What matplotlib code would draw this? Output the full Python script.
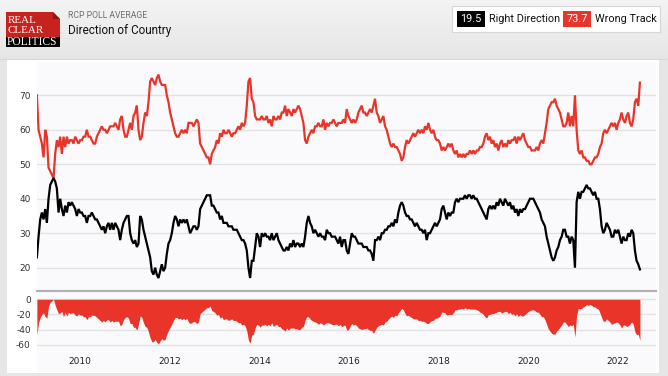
import numpy as np
import pandas as pd
import matplotlib.pyplot as plt
import matplotlib.dates as mdates
from matplotlib.patches import Rectangle, Polygon

plt.rcParams["axes.unicode_minus"] = False

RED = "#e9342a"
LOGO_RED = "#c6231e"
GRID = "#e2e2e2"

# RCP poll average (roughly every two weeks, Jan 2009 - Jun 2022)
wrong_track = [
    70, 60, 58, 56, 52, 60, 58, 49, 48, 47, 46, 53, 57, 55, 58, 53, 58, 55, 58, 56,
    57, 57, 56, 58, 57, 56, 57, 57, 58, 58, 60, 58, 58, 57, 56, 56, 58, 59, 60, 61,
    60, 60, 59, 60, 61, 61, 61, 62, 61, 60, 63, 64, 60, 58, 58, 60, 62, 60, 64, 65,
    67, 60, 57, 58, 62, 65, 64, 68, 74, 75, 74, 73, 75, 76, 74, 73, 73, 73, 70, 68,
    65, 63, 61, 59, 58, 58, 59, 60, 59,
    60, 59, 62, 62, 62, 61, 62, 63, 62, 56, 55, 54, 53, 52, 52, 50, 53, 54, 55, 57,
    56, 59, 58, 60, 59, 59, 60, 59, 58, 59, 59, 60, 61, 60, 62, 61, 62, 67, 74, 75,
    69, 68, 64, 63, 63, 63, 64, 63, 63, 64, 62, 63, 61, 64, 63, 63, 64, 63, 65, 65,
    67, 64, 66, 65, 64, 66, 65, 66, 67, 66, 64, 62, 57, 56, 58, 59, 60, 59, 61, 61,
    62, 61, 61, 63, 60, 62, 61, 62, 62, 63,
    62, 61, 62, 62, 62, 63, 62, 66, 64, 63, 62, 63, 62, 63, 65, 66, 67, 65, 65, 64,
    65, 66, 65, 67, 69, 65, 64, 62, 63, 64, 61, 60, 58, 56, 55, 56, 55, 55, 54, 53,
    51, 52, 55, 57, 56, 57, 58, 59, 58, 59, 60, 59, 60, 59, 61, 60, 62, 60, 59, 60,
    58, 57, 57, 56, 54, 55, 54, 55, 56, 55, 56, 54, 53, 54, 52, 53, 52, 53, 52, 53,
    53, 54, 53, 54, 53, 54, 54, 55, 55, 56,
    58, 59, 57, 58, 56, 57, 55, 56, 54, 56, 57, 55, 56, 55, 57, 56, 57, 57, 58, 56,
    58, 57, 58, 59, 57, 56, 55, 55, 54, 54, 54, 55, 54, 56, 57, 56, 59, 62, 66, 67,
    68, 68, 69, 67, 66, 65, 63, 61, 61, 62, 65, 61, 64, 61, 70, 60, 54, 53, 54, 52,
    52, 51, 51, 50, 50, 51, 52, 52, 53, 55, 56, 59, 60, 59, 60, 61, 62, 61, 62, 60,
    62, 63, 65, 63, 62, 64, 65, 62, 61, 63, 68, 69, 67, 73.7,
]

right_direction = [
    23, 29, 34, 36, 34, 37, 33, 40, 44, 45, 46, 45, 43, 36, 40, 37, 35, 38, 36, 39,
    38, 39, 38, 37, 35, 37, 36, 36, 35, 35, 33, 35, 35, 36, 35, 34, 34, 33, 32, 31,
    32, 30, 32, 33, 31, 33, 31, 33, 32, 31, 28, 31, 33, 34, 35, 35, 30, 28, 27, 28,
    26, 27, 35, 34, 31, 29, 27, 25, 23, 19, 18, 20, 18, 17, 19, 21, 19, 20, 24, 27,
    28, 30, 33, 35, 34, 32, 34, 33, 34,
    33, 34, 32, 30, 31, 32, 32, 31, 32, 37, 38, 39, 40, 41, 41, 41, 38, 38, 37, 36,
    36, 34, 35, 33, 33, 33, 32, 32, 32, 31, 31, 31, 30, 29, 28, 28, 27, 25, 20, 17,
    22, 22, 26, 30, 29, 26, 30, 29, 30, 29, 29, 28, 30, 28, 29, 30, 28, 27, 26, 25,
    25, 26, 25, 27, 26, 28, 26, 27, 27, 26, 27, 26, 29, 33, 35, 33, 32, 30, 31, 30,
    29, 30, 29, 29, 28, 31, 30, 30, 29, 29,
    29, 28, 27, 29, 26, 28, 28, 25, 24, 27, 30, 29, 29, 28, 27, 27, 27, 26, 26, 26,
    25, 25, 24, 22, 28, 28, 29, 28, 30, 30, 31, 31, 32, 32, 33, 32, 34, 33, 36, 38,
    39, 38, 36, 35, 35, 34, 34, 33, 32, 33, 32, 31, 31, 30, 31, 28, 30, 30, 31, 32,
    33, 32, 33, 34, 37, 38, 36, 34, 36, 35, 36, 36, 39, 40, 39, 40, 40, 40, 41, 40,
    41, 41, 40, 41, 40, 40, 39, 38, 37, 36,
    35, 34, 37, 38, 37, 38, 37, 39, 38, 40, 39, 38, 40, 39, 38, 39, 37, 38, 36, 37,
    35, 37, 36, 37, 37, 38, 39, 40, 40, 40, 39, 38, 37, 36, 34, 33, 32, 29, 27, 25,
    23, 22, 23, 25, 26, 28, 29, 31, 31, 29, 29, 27, 29, 28, 20, 39, 42, 40, 42, 42,
    43, 44, 43, 43, 42, 41, 42, 40, 40, 37, 32, 30, 31, 33, 32, 31, 29, 29, 31, 30,
    31, 29, 27, 29, 28, 28, 30, 29, 31, 30, 25, 22, 21, 19.5,
]

assert len(wrong_track) == len(right_direction)
dates = pd.date_range("2009-01-14", "2022-06-28", periods=len(right_direction))
spread = np.array(right_direction) - np.array(wrong_track)

main_yticks = [20, 30, 40, 50, 60, 70]
spread_yticks = [0, -20, -40, -60]

W, H = 668, 376
fig = plt.figure(figsize=(W / 100, H / 100), dpi=100)
fig.patch.set_facecolor("#e6e6e6")

# -- background / header, drawn in pixel coordinates
bg = fig.add_axes([0, 0, 1, 1], zorder=-1)
grad = np.linspace(0.955, 0.9, 60)[:, None, None] * np.ones((60, 1, 3))
bg.imshow(grad, extent=(0, W, 59, 0), aspect="auto", origin="upper")
bg.add_patch(Rectangle((7, 59), 652, 314, color="white", lw=0))
bg.add_patch(Rectangle((37, 62), 619, 310, color="#fafafc", lw=0))
bg.plot([0, W], [58.5, 58.5], color="#d8d8d8", lw=0.8)
bg.set_xlim(0, W)
bg.set_ylim(H, 0)
bg.axis("off")

# logo
bg.add_patch(Polygon([(6, 12), (53, 12), (60, 19), (60, 37), (6, 37)], color=LOGO_RED, lw=0))
bg.add_patch(Polygon([(53, 12), (53, 19), (60, 19)], color="#8e1712", lw=0))
bg.add_patch(Rectangle((6, 37), 54, 10, color="black", lw=0))
serif = dict(family="Liberation Serif", color="white", va="center")
bg.text(7.5, 20.8, "REAL", fontsize=7.9, **serif)
bg.text(7.5, 30.6, "CLEAR", fontsize=7.9, **serif)
bg.text(7, 42.3, "POLITICS", fontsize=8.3, **serif)

bg.text(68, 15.5, "RCP POLL AVERAGE", family="Roboto", fontsize=6.2, color="#6e6e6e", va="center")
bg.text(68, 30.5, "Direction of Country", family="Roboto", fontsize=8.5, color="#111111", va="center")

# legend box
bg.add_patch(Rectangle((452, 6), 208, 26, facecolor="white", edgecolor="#d6d6d6", lw=0.8))
bg.add_patch(Rectangle((457, 11), 28, 16, color="black", lw=0))
bg.add_patch(Rectangle((563, 11), 28, 16, color=RED, lw=0))
leg = dict(family="Roboto", fontsize=7.8, va="center")
bg.text(471, 19.3, f"{right_direction[-1]:.1f}", color="white", ha="center", **leg)
bg.text(489, 19.3, "Right Direction", color="#111111", ha="left", **leg)
bg.text(577, 19.3, f"{wrong_track[-1]:.1f}", color="white", ha="center", **leg)
bg.text(595, 19.3, "Wrong Track", color="#111111", ha="left", **leg)

# -- main chart
ax = fig.add_axes([37 / W, (H - 291) / H, 619 / W, 229 / H])
ax2 = fig.add_axes([37 / W, (H - 350) / H, 619 / W, 53 / H], sharex=ax)
for a in (ax, ax2):
    a.set_facecolor("none")
    for s in a.spines.values():
        s.set_visible(False)
    a.tick_params(length=0, labelsize=6.5, labelcolor="#333333")
    a.set_axisbelow(True)

ax.plot(dates, wrong_track, color=RED, lw=1.6, solid_joinstyle="miter")
ax.plot(dates, right_direction, color="black", lw=1.6, solid_joinstyle="miter")
ax.set_ylim(13.24, 79.66)
ax.set_yticks(main_yticks)
ax.yaxis.grid(True, color=GRID, lw=1.0)
ax.spines["bottom"].set_visible(True)
ax.spines["bottom"].set_color("#b0b0b0")
ax.spines["bottom"].set_linewidth(1.5)
ax.tick_params(axis="x", labelbottom=False)
ax.tick_params(axis="y", pad=4.5)

# -- right minus wrong spread
ax2.fill_between(dates, spread, 0, color=RED, lw=0)
ax2.set_ylim(-67, 3)
ax2.set_yticks(spread_yticks)
ax2.yaxis.grid(True, color=GRID, lw=1.0)
ax2.tick_params(axis="y", pad=4.5)
ax2.tick_params(axis="x", pad=5, labelcolor="#222222")
ax2.xaxis.set_major_locator(mdates.YearLocator(2))
ax2.xaxis.set_major_formatter(mdates.DateFormatter("%Y"))
ax2.set_xlim(pd.Timestamp("2009-01-15"), pd.Timestamp("2022-11-06"))

fig.savefig("out.png", dpi=100, facecolor=fig.get_facecolor())
